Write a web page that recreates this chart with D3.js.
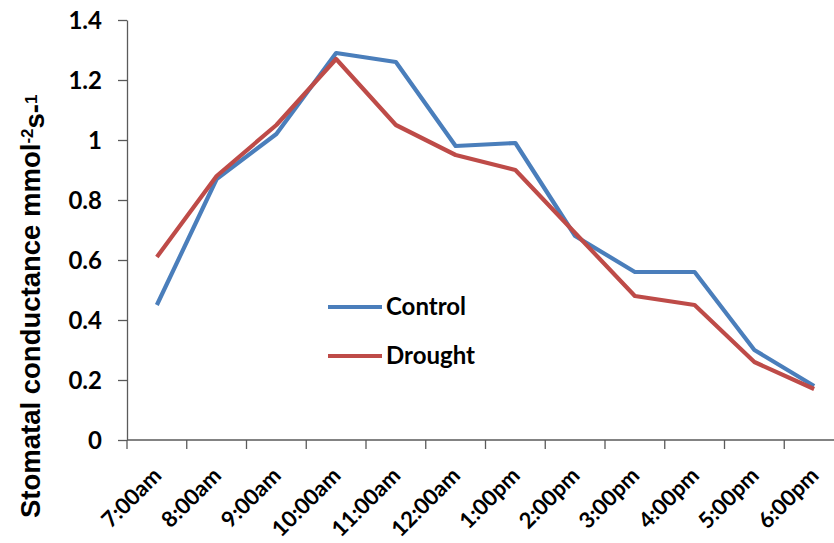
<!DOCTYPE html>
<html>
<head>
<meta charset="utf-8">
<script src="https://cdn.jsdelivr.net/npm/d3@7"></script>
<style>
  html, body { margin: 0; padding: 0; background: #fff; }
  svg { display: block; }
</style>
</head>
<body>
<svg id="chart" width="834" height="543"></svg>
<script>
// Sampling times through the day
const times = ["7:00am", "8:00am", "9:00am", "10:00am", "11:00am", "12:00am",
               "1:00pm", "2:00pm", "3:00pm", "4:00pm", "5:00pm", "6:00pm"];

// Stomatal conductance readings per treatment
const control = [0.45, 0.87, 1.02, 1.29, 1.26, 0.98, 0.99, 0.68, 0.56, 0.56, 0.30, 0.18];
const drought = [0.61, 0.88, 1.05, 1.27, 1.05, 0.95, 0.90, 0.69, 0.48, 0.45, 0.26, 0.17];

const yTicks = [0, 0.2, 0.4, 0.6, 0.8, 1, 1.2, 1.4];

const series = [
  { name: "Control", values: control, color: "#4a7ebb" },
  { name: "Drought", values: drought, color: "#be4b48" }
];

const svg = d3.select("#chart");
const plotLeft = 127, plotRight = 844, plotTop = 20, plotBottom = 440;

const x = d3.scaleBand().domain(times).range([plotLeft, plotRight]);
const y = d3.scaleLinear().domain([0, 1.4]).range([plotBottom, plotTop]);

const axisColor = "#5a5a5a";
const tickFont = "Lato, 'Open Sans', sans-serif";

// Y axis
const yAxis = svg.append("g")
  .attr("transform", `translate(${plotLeft},0)`)
  .call(d3.axisLeft(y).tickValues(yTicks).tickSize(9).tickSizeOuter(0)
    .tickFormat(d => String(+d.toFixed(1))));
yAxis.select(".domain").attr("stroke", axisColor).attr("stroke-width", 1.3);
yAxis.selectAll(".tick line").attr("stroke", axisColor).attr("stroke-width", 1.3);
yAxis.selectAll(".tick text")
  .attr("x", -25)
  .attr("dy", "0.36em")
  .attr("fill", "#000")
  .style("font-family", tickFont)
  .style("font-weight", "bold")
  .style("font-size", "24px");

// X axis with ticks at category boundaries
const xg = svg.append("g");
xg.append("line")
  .attr("x1", plotLeft).attr("x2", plotRight)
  .attr("y1", plotBottom).attr("y2", plotBottom)
  .attr("stroke", axisColor).attr("stroke-width", 1.3);
const boundaries = times.map(t => x(t)).concat([x.range()[1]]);
xg.selectAll("line.tk").data(boundaries).join("line")
  .attr("class", "tk")
  .attr("x1", d => d).attr("x2", d => d)
  .attr("y1", plotBottom).attr("y2", plotBottom + 9)
  .attr("stroke", axisColor).attr("stroke-width", 1.3);
xg.selectAll("text").data(times).join("text")
  .attr("transform", d => `translate(${x(d) + x.bandwidth() / 2 + 6},${plotBottom + 37}) rotate(-45)`)
  .attr("text-anchor", "end")
  .attr("fill", "#000")
  .style("font-family", tickFont)
  .style("font-weight", "bold")
  .style("font-size", "22px")
  .text(d => d);

// Y axis title
const title = svg.append("text")
  .attr("transform", "translate(40,518) rotate(-90)")
  .attr("text-anchor", "start")
  .attr("fill", "#000")
  .style("font-family", "'Liberation Sans', Arial, sans-serif")
  .style("font-weight", "bold")
  .style("font-size", "27.5px");
title.append("tspan").text("Stomatal conductance mmol");
title.append("tspan").attr("dy", "-0.42em").style("font-size", "17px").text("-2");
title.append("tspan").attr("dy", "0.42em").text("s-");
title.append("tspan").attr("dy", "-0.42em").style("font-size", "17px").text("1");

// Lines
const line = d3.line()
  .x((d, i) => x(times[i]) + x.bandwidth() / 2)
  .y(d => y(d));

svg.selectAll("path.series").data(series).join("path")
  .attr("class", "series")
  .attr("d", d => line(d.values))
  .attr("fill", "none")
  .attr("stroke", d => d.color)
  .attr("stroke-width", 4.2)
  .attr("stroke-linejoin", "round");

// Legend
const legend = svg.append("g");
series.forEach((s, i) => {
  const ly = 307 + i * 49;
  legend.append("line")
    .attr("x1", 328).attr("x2", 382)
    .attr("y1", ly).attr("y2", ly)
    .attr("stroke", s.color).attr("stroke-width", 4.2);
  legend.append("text")
    .attr("x", 386).attr("y", ly + 8)
    .attr("fill", "#000")
    .style("font-family", tickFont)
    .style("font-weight", "bold")
    .style("font-size", "24px")
    .text(s.name);
});
</script>
</body>
</html>
